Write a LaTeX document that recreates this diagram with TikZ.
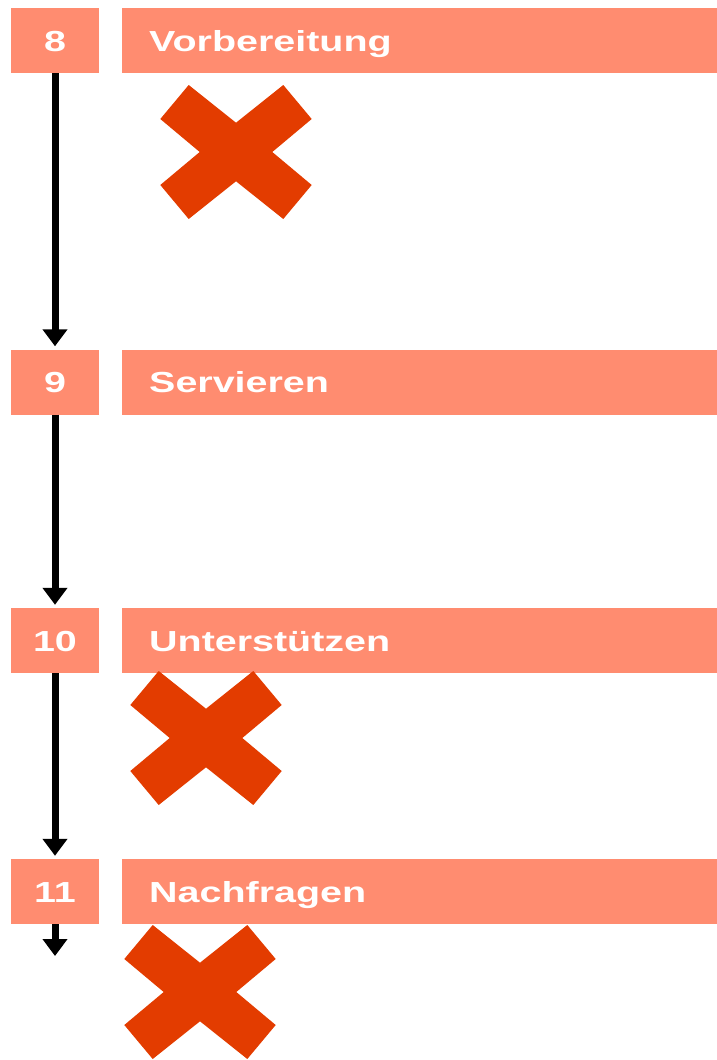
\documentclass[tikz,border=0pt]{standalone}
\usepackage{fontspec}
\usepackage{graphicx}
\setmainfont{Liberation Sans}
\usetikzlibrary{arrows.meta}
\definecolor{boxsalmon}{RGB}{255,140,112}
\definecolor{crossred}{RGB}{227,60,0}
\newcommand{\stretchtext}[1]{\scalebox{1.36}[1]{#1}}
\tikzset{
  numbox/.style={fill=boxsalmon, draw=none, minimum width=88pt, minimum height=65pt,
    inner sep=0pt, text height=21pt, text depth=0pt, text=white,
    font=\fontsize{29}{29}\selectfont\bfseries},
  titlebox/.style={fill=boxsalmon, draw=none, anchor=west, text width=541pt, align=left,
    inner xsep=27pt, inner ysep=0pt, minimum height=65pt, text height=21pt, text depth=0pt,
    text=white, font=\fontsize{29}{29}\selectfont\bfseries},
  flowarrow/.style={draw=black, line width=7pt, -{Triangle[width=24pt,length=17pt]}, shorten >=3pt},
  xmark/.pic={
    \fill[crossred] (-47.3,-67) -- (0,-29.3) -- (47.3,-67) -- (75.7,-33) -- (36.3,0)
      -- (75.7,33) -- (47.3,67) -- (0,29.3) -- (-47.3,67) -- (-75.7,33) -- (-36.3,0)
      -- (-75.7,-33) -- cycle;
  }
}
\begin{document}
\begin{tikzpicture}[x=1pt, y=-1pt]
  \useasboundingbox (0,0) rectangle (717,1060);
  % rows
  \node[numbox] (n8) at (55,40.5) {\stretchtext{8}};
  \node[titlebox] (t8) at (122,40.5) {\stretchtext{Vorbereitung}};
  \node[numbox] (n9) at (55,382) {\stretchtext{9}};
  \node[titlebox] (t9) at (122,382) {\stretchtext{Servieren}};
  \node[numbox] (n10) at (55,640.5) {\stretchtext{10}};
  \node[titlebox] (t10) at (122,640.5) {\stretchtext{Unterstützen}};
  \node[numbox] (n11) at (55,891.5) {\stretchtext{11}};
  \node[titlebox] (t11) at (122,891.5) {\stretchtext{Nachfragen}};
  \coordinate (end) at (55,956);
  % arrows
  \draw[flowarrow] (n8.south) -- (n9.north);
  \draw[flowarrow] (n9.south) -- (n10.north);
  \draw[flowarrow] (n10.south) -- (n11.north);
  \draw[flowarrow, shorten >=0pt] (n11.south) -- (end);
  % crosses
  \pic at (236,152) {xmark};
  \pic at (206,738) {xmark};
  \pic at (200,992) {xmark};
\end{tikzpicture}
\end{document}
